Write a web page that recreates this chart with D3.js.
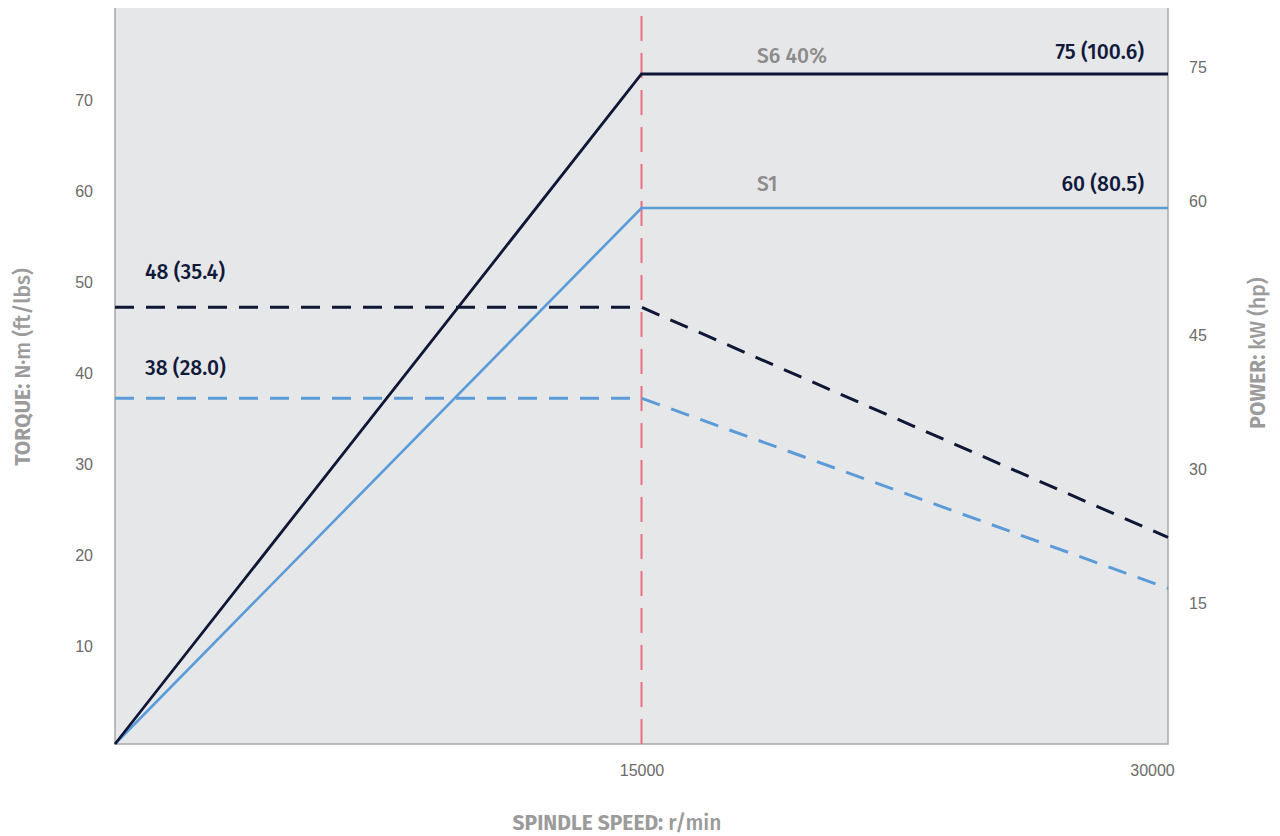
<!DOCTYPE html>
<html>
<head>
<meta charset="utf-8">
<script src="https://cdn.jsdelivr.net/npm/d3@7"></script>
<style>
  body { margin: 0; background: #fff; }
  svg { display: block; font-family: "Fira Sans", Roboto, "Open Sans", sans-serif; }
  .tick text { fill: #6b6b6b; font-size: 16px; }
  .titre { fill: #9b9b9b; font-size: 21px; }
  .valeur { fill: #111a3a; font-size: 21px; font-weight: 500; }
  .serie { fill: #8c8c8c; font-size: 21px; font-weight: 500; }
</style>
</head>
<body>
<script>
// donnees
var speed = [0, 15000, 30000];
var powerS6 = [0, 75, 75];
var powerS1 = [0, 60, 60];
var torqueS6 = [48, 48, 22.7];
var torqueS1 = [38, 38, 17.1];

var torqueTicks = [10, 20, 30, 40, 50, 60, 70];
var powerTicks = [15, 30, 45, 60, 75];
var speedTicks = [15000, 30000];

var seriesNames = ["S6 40%", "S1"];
var powerLabels = ["75 (100.6)", "60 (80.5)"];
var torqueLabels = ["48 (35.4)", "38 (28.0)"];

var width = 1280, height = 836;
var margin = { left: 115, right: 112, top: 8, bottom: 92 };
var x0 = margin.left, x1 = width - margin.right,
    y0 = height - margin.bottom, y1 = margin.top;

var navy = "#0e1735", blue = "#5b9bd8", rouge = "#e8707e";

var svg = d3.select("body").append("svg")
    .attr("width", width)
    .attr("height", height);

var x = d3.scaleLinear().domain([0, 30000]).range([x0, x1]);
var yT = d3.scaleLinear().domain([0, 80]).range([y0, y0 - 80 * 9.1]);
var yP = d3.scaleLinear().domain([0, 75]).range([y0, 74]);

// fond du graphique
svg.append("rect")
    .attr("x", x0).attr("y", y1)
    .attr("width", x1 - x0).attr("height", y0 - y1)
    .attr("fill", "#e6e7e9");

// axes
var axeG = svg.append("g").attr("transform", "translate(" + (x0 - 22) + ",0)")
    .call(d3.axisLeft(yT).tickValues(torqueTicks).tickSize(0).tickPadding(0));
axeG.select(".domain").remove();
axeG.selectAll("text").attr("dy", "-0.1em").attr("font-family", null);

var axeD = svg.append("g").attr("transform", "translate(" + (x1 + 21) + ",0)")
    .call(d3.axisRight(yP).tickValues(powerTicks).tickSize(0).tickPadding(0));
axeD.select(".domain").remove();
axeD.selectAll("text").attr("dy", "-0.1em").attr("font-family", null);

var axeB = svg.append("g").attr("transform", "translate(0," + (y0 + 21) + ")")
    .call(d3.axisBottom(x).tickValues(speedTicks).tickSize(0).tickPadding(0).tickFormat(d3.format("d")));
axeB.select(".domain").remove();
axeB.selectAll("text").attr("font-family", null);
axeB.selectAll(".tick").filter(function(d) { return d === 30000; })
    .select("text").attr("dx", "-16");

// bords
svg.append("path")
    .attr("d", "M" + x0 + "," + y1 + "V" + y0 + "H" + x1 + "V" + y1)
    .attr("fill", "none")
    .attr("stroke", "#a9a9a9")
    .attr("stroke-width", 1.5);

// ligne rouge a 15000
svg.append("line")
    .attr("x1", x(15000)).attr("x2", x(15000))
    .attr("y1", y1 + 8).attr("y2", y0)
    .attr("stroke", rouge)
    .attr("stroke-width", 2)
    .attr("stroke-dasharray", "25,12");

// courbes
var lignePuissance = function(vals) {
    return d3.line().x(function(d, i) { return x(speed[i]); }).y(function(d) { return yP(d); })(vals);
};
var ligneCouple = function(vals) {
    return d3.line().x(function(d, i) { return x(speed[i]); }).y(function(d) { return yT(d); })(vals);
};

svg.append("path").attr("d", ligneCouple(torqueS6))
    .attr("fill", "none").attr("stroke", navy).attr("stroke-width", 3)
    .attr("stroke-dasharray", "19,12");
svg.append("path").attr("d", ligneCouple(torqueS1))
    .attr("fill", "none").attr("stroke", blue).attr("stroke-width", 3)
    .attr("stroke-dasharray", "19,12");
svg.append("path").attr("d", lignePuissance(powerS1))
    .attr("fill", "none").attr("stroke", blue).attr("stroke-width", 2.6);
svg.append("path").attr("d", lignePuissance(powerS6))
    .attr("fill", "none").attr("stroke", navy).attr("stroke-width", 2.8);

// etiquettes des valeurs
svg.append("text").attr("class", "valeur").attr("x", x1 - 24).attr("y", yP(powerS6[2]) - 15)
    .attr("text-anchor", "end").text(powerLabels[0]);
svg.append("text").attr("class", "valeur").attr("x", x1 - 24).attr("y", yP(powerS1[2]) - 17)
    .attr("text-anchor", "end").text(powerLabels[1]);
svg.append("text").attr("class", "valeur").attr("x", x0 + 30).attr("y", yT(torqueS6[0]) - 28)
    .text(torqueLabels[0]);
svg.append("text").attr("class", "valeur").attr("x", x0 + 30).attr("y", yT(torqueS1[0]) - 23)
    .text(torqueLabels[1]);

svg.append("text").attr("class", "serie").attr("x", 757).attr("y", yP(powerS6[1]) - 11)
    .text(seriesNames[0]);
svg.append("text").attr("class", "serie").attr("x", 757).attr("y", yP(powerS1[1]) - 17)
    .text(seriesNames[1]);

// titres des axes
var tG = svg.append("text").attr("class", "titre")
    .attr("transform", "translate(30,367) rotate(-90)")
    .attr("text-anchor", "middle");
tG.append("tspan").attr("font-weight", 700).text("TORQUE: ");
tG.append("tspan").attr("font-weight", 500).text("N·m (ft/lbs)");

var tD = svg.append("text").attr("class", "titre")
    .attr("transform", "translate(1265,353) rotate(-90)")
    .attr("text-anchor", "middle");
tD.append("tspan").attr("font-weight", 700).text("POWER: ");
tD.append("tspan").attr("font-weight", 500).text("kW (hp)");

var tB = svg.append("text").attr("class", "titre")
    .attr("x", 617).attr("y", 830)
    .attr("text-anchor", "middle");
tB.append("tspan").attr("font-weight", 700).text("SPINDLE SPEED: ");
tB.append("tspan").attr("font-weight", 500).text("r/min");
</script>
</body>
</html>
